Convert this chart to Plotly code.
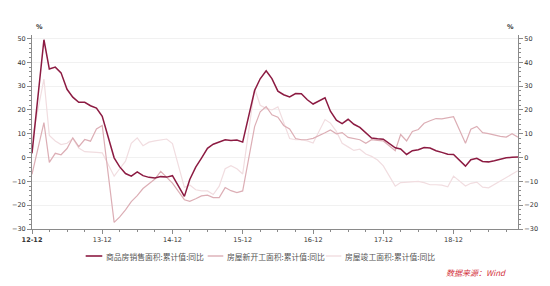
import plotly.graph_objects as go

# ---- categories (cumulative data: no January) ----
years = [2013, 2014, 2015, 2016, 2017, 2018]
dates = ["2012-12-01"]
for y in years:
    for m in range(2, 13):
        dates.append(f"{y}-{m:02d}-01")
for m in range(2, 12):
    dates.append(f"2019-{m:02d}-01")

# ---- series values (%) ----
sales = [1.8,
         49.5, 37.2, 38.0, 35.6, 28.7, 25.4, 23.2, 23.2, 21.8, 20.8, 17.3,
         -0.1, -3.8, -6.7, -7.8, -6.0, -7.6, -8.3, -8.6, -8.0, -8.2, -7.6,
         -16.3, -9.2, -4.0, -0.2, 3.9, 5.6, 6.6, 7.5, 7.2, 7.4, 6.5,
         28.2, 33.1, 36.5, 33.2, 27.9, 26.4, 25.5, 26.9, 26.8, 24.3, 22.5,
         25.1, 19.5, 15.7, 14.3, 16.1, 14.0, 12.7, 10.3, 8.2, 7.9, 7.7,
         4.1, 3.6, 1.3, 2.9, 3.3, 4.2, 4.0, 2.9, 2.2, 1.4, 1.3,
         -3.6, -0.9, -0.3, -1.6, -1.8, -1.3, -0.6, -0.1, 0.1, 0.2]

new_start = [-7.0,
             14.7, -2.0, 1.8, 1.2, 3.8, 8.3, 4.6, 7.6, 6.9, 12.0, 13.5,
             -27.2, -25.0, -22.0, -18.5, -16.0, -13.0, -11.0, -9.0, -5.8, -8.5, -10.7,
             -17.7, -18.4, -17.3, -16.1, -15.8, -16.8, -16.8, -12.6, -13.9, -14.7, -14.0,
             13.0, 19.2, 21.4, 18.0, 17.0, 13.5, 12.0, 8.0, 7.5, 7.6, 8.1,
             10.4, 11.6, 10.0, 10.5, 8.5, 8.0, 7.5, 6.0, 7.5, 7.2, 7.0,
             2.9, 9.7, 7.0, 11.0, 11.8, 14.4, 15.5, 16.4, 16.3, 16.8, 17.2,
             6.0, 11.9, 13.1, 10.5, 10.1, 9.5, 8.9, 8.6, 10.0, 8.6]

completion = [7.3,
              33.0, 9.3, 7.0, 5.5, 6.0, 8.0, 4.0, 2.5, 2.2, 2.2, 2.0,
              -7.8, -4.8, -1.5, 6.0, 8.3, 5.0, 6.5, 7.0, 7.3, 7.8, 5.9,
              -12.5, -11.5, -13.5, -14.0, -14.0, -15.5, -12.0, -4.7, -3.4, -4.7, -6.9,
              29.0, 22.0, 20.7, 20.0, 21.3, 15.0, 8.0, 7.5, 7.5, 7.0, 6.1,
              16.0, 14.5, 11.0, 6.0, 4.5, 3.0, 3.5, 1.5, 0.5, -1.0, -3.5,
              -12.0, -10.5, -10.4, -10.2, -10.0, -10.5, -11.4, -11.4, -11.6, -12.3, -7.8,
              -11.9, -10.8, -10.3, -12.4, -12.7, -11.3, -10.0, -8.6, -7.0, -5.5]

assert len(dates) == len(sales) == len(new_start) == len(completion)

series_names = ["商品房销售面积:累计值:同比", "房屋新开工面积:累计值:同比", "房屋竣工面积:累计值:同比"]
colors = ["#8c1b42", "#dcaeb5", "#f1dde0"]
widths = [1.5, 1.2, 1.2]

tick_dates = ["2012-12-01", "2013-12-01", "2014-12-01", "2015-12-01",
              "2016-12-01", "2017-12-01", "2018-12-01"]
tick_text = ["<b>12-12</b>", "13-12", "14-12", "15-12", "16-12", "17-12", "18-12"]
minor_dates = [f"{y}-{m:02d}-01" for y in range(2013, 2020) for m in (3, 6, 9)]
y_ticks = [-30, -20, -10, 0, 10, 20, 30, 40, 50]

fig = go.Figure()
# draw lightest first so the dark line is on top
for vals, name, col, w in list(zip([sales, new_start, completion], series_names, colors, widths))[::-1]:
    fig.add_trace(go.Scatter(x=dates, y=vals, mode="lines", name=name,
                             line=dict(color=col, width=w), showlegend=False))
# invisible trace to activate the right-hand axis
fig.add_trace(go.Scatter(x=dates, y=sales, mode="lines", yaxis="y2",
                         line=dict(color="rgba(0,0,0,0)", width=0),
                         showlegend=False, hoverinfo="skip"))

axis_col = "#8a8a8a"
tick_font = dict(family="DejaVu Sans", size=6.5, color="#333333")
yr = [-30, 51.5]

fig.update_layout(
    width=550, height=286,
    margin=dict(l=25, r=27, t=35, b=57),
    paper_bgcolor="white", plot_bgcolor="white",
    showlegend=False,
    xaxis=dict(type="date", range=["2012-12-01", "2019-11-01"],
               tickmode="array", tickvals=tick_dates, ticktext=tick_text,
               ticks="outside", ticklen=4, tickcolor=axis_col,
               showline=True, linecolor=axis_col, linewidth=1,
               showgrid=False, zeroline=False, tickfont=tick_font,
               minor=dict(tickmode="array", tickvals=minor_dates,
                          ticks="outside", ticklen=2, tickcolor=axis_col)),
    yaxis=dict(range=yr, tickvals=y_ticks, ticks="outside", ticklen=4,
               tickcolor=axis_col, showline=True, linecolor=axis_col, linewidth=1,
               showgrid=True, gridcolor="#f1f1f1", gridwidth=1, zeroline=False,
               tickfont=tick_font,
               minor=dict(dtick=2, ticks="outside", ticklen=2, tickcolor=axis_col)),
    yaxis2=dict(range=yr, tickvals=y_ticks, overlaying="y", side="right",
                ticks="outside", ticklen=4, tickcolor=axis_col,
                showline=True, linecolor=axis_col, linewidth=1,
                showgrid=False, zeroline=False, tickfont=tick_font,
                minor=dict(dtick=2, ticks="outside", ticklen=2, tickcolor=axis_col)),
)

# "%" unit labels
fig.add_annotation(text="<b>%</b>", xref="paper", yref="paper", x=0.005, y=1.01,
                   xanchor="left", yanchor="bottom", showarrow=False,
                   font=dict(family="DejaVu Sans", size=6.5, color="#333333"))
fig.add_annotation(text="<b>%</b>", xref="paper", yref="paper", x=0.995, y=1.01,
                   xanchor="right", yanchor="bottom", showarrow=False,
                   font=dict(family="DejaVu Sans", size=6.5, color="#333333"))

# custom legend (pixel positions converted to paper coords)
PL, PW, PB, PH = 25, 498, 229, 194
def px(xp):
    return (xp - PL) / PW
def py(yp):
    return (PB - yp) / PH

leg_y = 256
leg_items = [(80, 97, 99), (205, 221, 223), (326, 342, 344)]
for (x0, x1, xt), name, col in zip(leg_items, series_names, colors):
    fig.add_shape(type="line", xref="paper", yref="paper",
                  x0=px(x0), x1=px(x1), y0=py(leg_y), y1=py(leg_y),
                  line=dict(color=col, width=1.6 if col == colors[0] else 1.4))
    fig.add_annotation(text=name, xref="paper", yref="paper", x=px(xt), y=py(leg_y),
                       xanchor="left", yanchor="middle", showarrow=False,
                       font=dict(family="Noto Sans CJK SC", size=7.8, color="#555555"))

fig.add_annotation(text="<i>数据来源：Wind</i>", xref="paper", yref="paper",
                   x=px(513), y=py(272), xanchor="right", yanchor="middle",
                   showarrow=False,
                   font=dict(family="Noto Sans CJK SC", size=8, color="#d3323c"))

fig.write_html("out.html")
